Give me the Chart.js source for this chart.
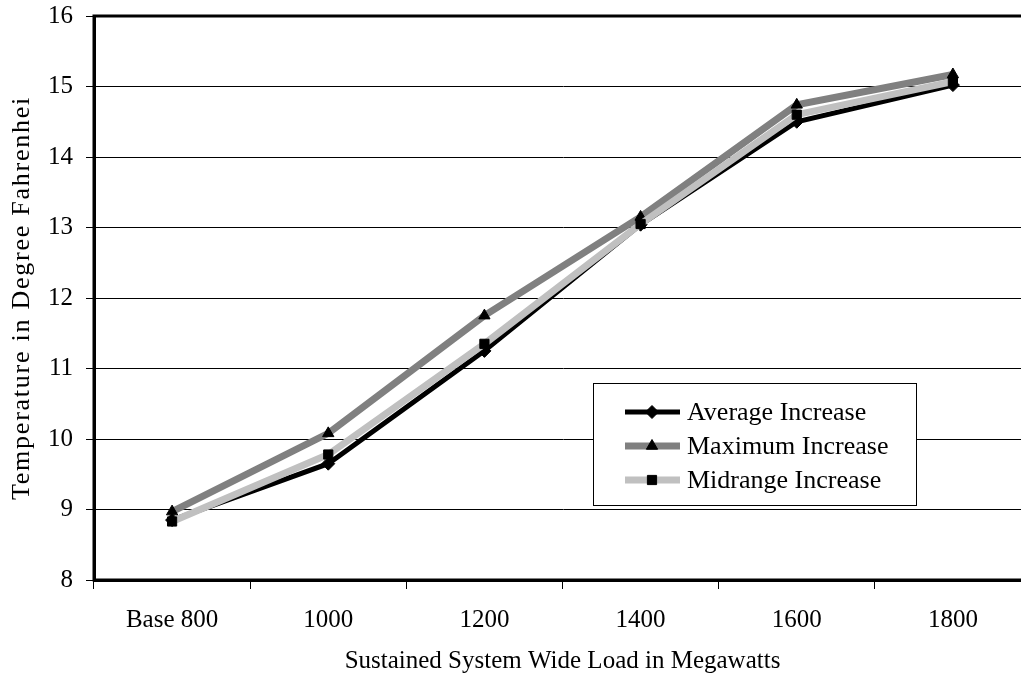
<!DOCTYPE html>
<html>
<head>
<meta charset="utf-8">
<script src="https://cdn.jsdelivr.net/npm/chart.js@4.4.0/dist/chart.umd.min.js"></script>
<style>
  html, body { margin: 0; padding: 0; background: #fff; overflow: hidden; }
  #wrap { position: relative; top: -12px; width: 1045px; height: 691px; }
</style>
</head>
<body>
<div id="wrap"><canvas id="c"></canvas></div>
<script>
const categories = ['Base 800', '1000', '1200', '1400', '1600', '1800'];
const averageIncrease = [8.85, 9.65, 11.25, 13.04, 14.50, 15.02];
const maximumIncrease = [8.97, 10.08, 11.75, 13.15, 14.74, 15.17];
const midrangeIncrease = [8.83, 9.78, 11.35, 13.05, 14.60, 15.07];
const seriesNames = ['Average Increase', 'Maximum Increase', 'Midrange Increase'];
const yTitle = 'Temperature in Degree Fahrenhei';
const xTitle = 'Sustained System Wide Load in Megawatts';

const FONT = 'Liberation Serif';
const lineColors = ['#000000', '#808080', '#c0c0c0'];
const lineWidths = [5, 7, 7];
const markers = ['rectRot', 'triangle', 'rect'];

const frame = {
  id: 'frame',
  beforeDatasetsDraw(chart) {
    const a = chart.chartArea, ctx = chart.ctx;
    ctx.save();
    ctx.strokeStyle = '#000';
    ctx.lineWidth = 3;
    ctx.strokeRect(a.left, a.top, a.right - a.left, a.bottom - a.top);
    ctx.restore();
  }
};

const yTitlePlugin = {
  id: 'yTitlePlugin',
  afterDraw(chart) {
    const ctx = chart.ctx, a = chart.chartArea;
    ctx.save();
    ctx.translate(22, (a.top + a.bottom) / 2);
    ctx.rotate(-Math.PI / 2);
    ctx.font = '26px "' + FONT + '"';
    if ('letterSpacing' in ctx) ctx.letterSpacing = '1.75px';
    ctx.fillStyle = '#000';
    ctx.textAlign = 'center';
    ctx.textBaseline = 'middle';
    ctx.fillText(yTitle, 0, 0);
    ctx.restore();
  }
};

const legendBox = {
  id: 'legendBox',
  afterDraw(chart) {
    const ctx = chart.ctx;
    const dy = 12;
    const x0 = 593, y0 = 383 + dy, w = 323, h = 122;
    ctx.save();
    ctx.fillStyle = '#fff';
    ctx.fillRect(x0, y0, w, h);
    ctx.strokeStyle = '#000';
    ctx.lineWidth = 1;
    ctx.strokeRect(x0 + 0.5, y0 + 0.5, w, h);
    const rows = [412 + dy, 446 + dy, 480 + dy];
    for (let i = 0; i < 3; i++) {
      const y = rows[i];
      ctx.strokeStyle = lineColors[i];
      ctx.lineWidth = lineWidths[i];
      ctx.beginPath();
      ctx.moveTo(625, y);
      ctx.lineTo(680, y);
      ctx.stroke();
      ctx.fillStyle = '#000';
      ctx.strokeStyle = '#000';
      ctx.lineWidth = 1;
      Chart.helpers.drawPoint(ctx, {pointStyle: markers[i], radius: 6.5, borderWidth: 1, rotation: 0}, 652, y);
      ctx.fillStyle = '#000';
      ctx.font = '26px "' + FONT + '"';
      ctx.textBaseline = 'middle';
      ctx.textAlign = 'left';
      ctx.fillText(seriesNames[i], 687, y + 1);
    }
    ctx.restore();
  }
};

function ds(label, data, i, order) {
  return {
    label, data,
    borderColor: lineColors[i],
    borderWidth: lineWidths[i],
    pointStyle: markers[i],
    pointRadius: 6.5,
    pointBackgroundColor: '#000',
    pointBorderColor: '#000',
    pointBorderWidth: 1,
    tension: 0,
    order
  };
}

new Chart(document.getElementById('c'), {
  type: 'line',
  data: {
    labels: categories,
    datasets: [
      ds(seriesNames[0], averageIncrease, 0, 3),
      ds(seriesNames[1], maximumIncrease, 1, 2),
      ds(seriesNames[2], midrangeIncrease, 2, 1)
    ]
  },
  options: {
    responsive: true,
    maintainAspectRatio: false,
    animation: false,
    devicePixelRatio: 1,
    layout: { padding: { left: 0, right: 14, top: 0, bottom: 2 } },
    plugins: { legend: { display: false }, tooltip: { enabled: false } },
    scales: {
      x: {
        offset: true,
        grid: { offset: true, drawOnChartArea: false, drawTicks: true, tickLength: 9, color: '#000', lineWidth: 1 },
        border: { display: true, color: '#000', width: 3 },
        ticks: { color: '#000', font: { family: FONT, size: 25 }, padding: 16, maxRotation: 0 },
        title: { display: true, text: xTitle, color: '#000', font: { family: FONT, size: 25 }, padding: { top: -5, bottom: 1 } }
      },
      y: {
        min: 8, max: 16,
        afterFit(scale) { scale.width = 94; },
        grid: { color: '#000', lineWidth: 1, tickLength: 8, drawTicks: true },
        border: { display: true, color: '#000', width: 3 },
        ticks: { stepSize: 1, color: '#000', font: { family: FONT, size: 25 }, padding: 13 },
        title: { display: false }
      }
    }
  },
  plugins: [frame, yTitlePlugin, legendBox]
});
</script>
</body>
</html>
